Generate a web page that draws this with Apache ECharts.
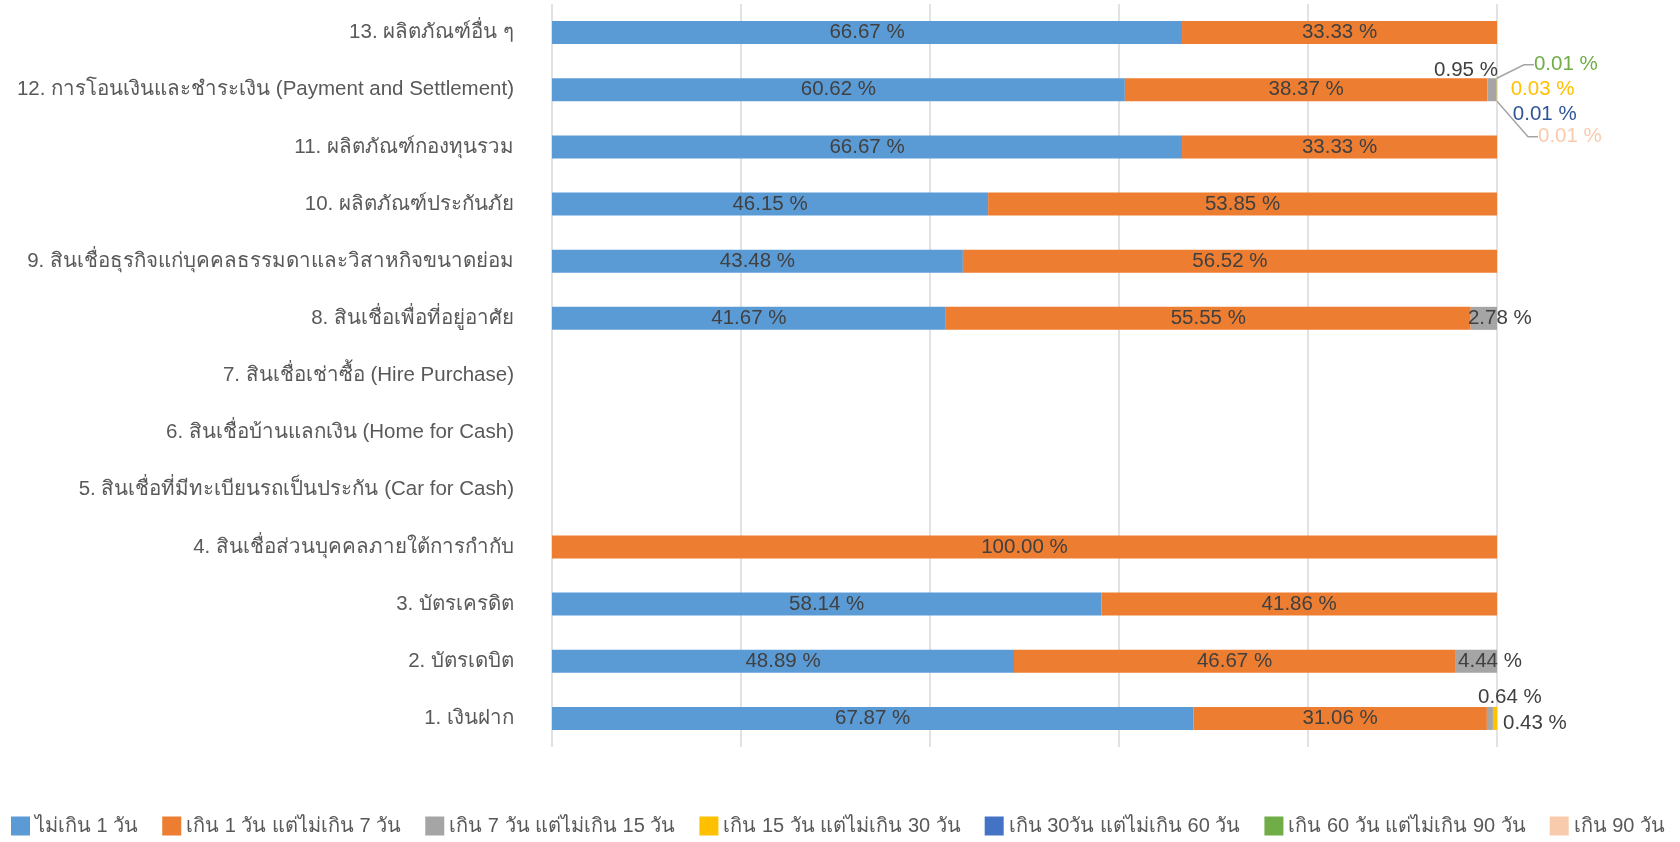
<!DOCTYPE html>
<html>
<head>
<meta charset="utf-8">
<script src="https://cdn.jsdelivr.net/npm/echarts@6/dist/echarts.min.js"></script>
<style>
html,body{margin:0;padding:0;background:#fff;}
#chart{width:1680px;height:842px;}
</style>
</head>
<body>
<div id="chart"></div>
<script>
const categories = [
  '1. เงินฝาก',
  '2. บัตรเดบิต',
  '3. บัตรเครดิต',
  '4. สินเชื่อส่วนบุคคลภายใต้การกำกับ',
  '5. สินเชื่อที่มีทะเบียนรถเป็นประกัน (Car for Cash)',
  '6. สินเชื่อบ้านแลกเงิน (Home for Cash)',
  '7. สินเชื่อเช่าซื้อ (Hire Purchase)',
  '8. สินเชื่อเพื่อที่อยู่อาศัย',
  '9. สินเชื่อธุรกิจแก่บุคคลธรรมดาและวิสาหกิจขนาดย่อม',
  '10. ผลิตภัณฑ์ประกันภัย',
  '11. ผลิตภัณฑ์กองทุนรวม',
  '12. การโอนเงินและชำระเงิน (Payment and Settlement)',
  '13. ผลิตภัณฑ์อื่น ๆ'
];
const seriesNames = [
  'ไม่เกิน 1 วัน',
  'เกิน 1 วัน แต่ไม่เกิน 7 วัน',
  'เกิน 7 วัน แต่ไม่เกิน 15 วัน',
  'เกิน 15 วัน แต่ไม่เกิน 30 วัน',
  'เกิน 30วัน แต่ไม่เกิน 60 วัน',
  'เกิน 60 วัน แต่ไม่เกิน 90 วัน',
  'เกิน 90 วัน'
];
const upTo1Day     = [67.87, 48.89, 58.14, null, null, null, null, 41.67, 43.48, 46.15, 66.67, 60.62, 66.67];
const day1to7      = [31.06, 46.67, 41.86, 100.00, null, null, null, 55.55, 56.52, 53.85, 33.33, 38.37, 33.33];
const day7to15     = [0.64, 4.44, null, null, null, null, null, 2.78, null, null, null, 0.95, null];
const day15to30    = [0.43, null, null, null, null, null, null, null, null, null, null, 0.03, null];
const day30to60    = [null, null, null, null, null, null, null, null, null, null, null, 0.01, null];
const day60to90    = [null, null, null, null, null, null, null, null, null, null, null, 0.01, null];
const over90       = [null, null, null, null, null, null, null, null, null, null, null, 0.01, null];

const colors = ['#5B9BD5', '#ED7D31', '#A5A5A5', '#FFC000', '#4472C4', '#70AD47', '#F8CBAD'];
const FONT = '"Liberation Sans", "Noto Sans", Arial, sans-serif';
const labelColor = '#404040';

const fmt = p => (p.value == null ? '' : Number(p.value).toFixed(2) + ' %');

function build(vals, overrides) {
  return vals.map((v, i) => {
    if (v == null) return null;
    const o = { value: v };
    if (overrides && overrides[i]) o.label = overrides[i];
    return o;
  });
}

// per-item label placement tweaks (index into categories)
const grayLabels = {
  0: { position: 'top', offset: [20, 6] },
  1: { position: 'inside', offset: [14, 0] },
  7: { position: 'inside', offset: [16, 0] },
  11: { position: 'top', offset: [-26, 8] }
};
const yellowLabels = {
  0: { position: 'right', distance: 6, offset: [0, 5] },
  11: { position: 'right', distance: 14, offset: [0, 0], color: '#FFC000' }
};
const blueLabels = {
  11: { position: 'right', distance: 16, offset: [0, 25], color: '#2F5597' }
};

const dataSets = [upTo1Day, day1to7, day7to15, day15to30, day30to60, day60to90, over90];
const labelOverrides = [null, null, grayLabels, yellowLabels, blueLabels, null, null];

const series = dataSets.map((vals, si) => {
  const s = {
    name: seriesNames[si],
    type: 'bar',
    stack: 'total',
    barWidth: 23,
    itemStyle: { color: colors[si] },
    label: {
      show: true,
      position: 'inside',
      formatter: fmt,
      color: labelColor,
      fontFamily: FONT,
      fontSize: 20.5
    },
    emphasis: { disabled: true },
    data: build(vals, labelOverrides[si])
  };
  if (si === 5) {
    s.label = Object.assign({}, s.label, { position: 'right', color: '#70AD47' });
    s.labelLayout = function () { return { dx: 32, dy: -25 }; };
    s.labelLine = { show: true, lineStyle: { color: '#A5A5A5', width: 1.5 }, length2: 10 };
  }
  if (si === 6) {
    s.label = Object.assign({}, s.label, { position: 'right', color: '#F8CBAD' });
    s.labelLayout = function () { return { dx: 36, dy: 47 }; };
    s.labelLine = { show: true, lineStyle: { color: '#A5A5A5', width: 1.5 }, length2: 10 };
  }
  return s;
});

const chart = echarts.init(document.getElementById('chart'));
chart.setOption({
  animation: false,
  textStyle: { fontFamily: FONT },
  grid: { left: 552, right: 183, top: 4, bottom: 95, containLabel: false },
  xAxis: {
    type: 'value',
    min: 0,
    max: 100,
    interval: 20,
    axisLabel: { show: false },
    axisLine: { show: false },
    axisTick: { show: false },
    splitLine: { show: true, lineStyle: { color: '#D9D9D9', width: 1.5 } }
  },
  yAxis: {
    type: 'category',
    data: categories,
    axisLine: { show: false },
    axisTick: { show: false },
    axisLabel: { color: '#595959', fontSize: 20.5, margin: 38, fontFamily: FONT }
  },
  legend: {
    left: 6,
    bottom: 1,
    itemWidth: 19,
    itemHeight: 19,
    itemGap: 24,
    icon: 'rect',
    textStyle: { color: '#595959', fontSize: 20, fontFamily: FONT },
    data: seriesNames
  },
  series: series
});
</script>
</body>
</html>
